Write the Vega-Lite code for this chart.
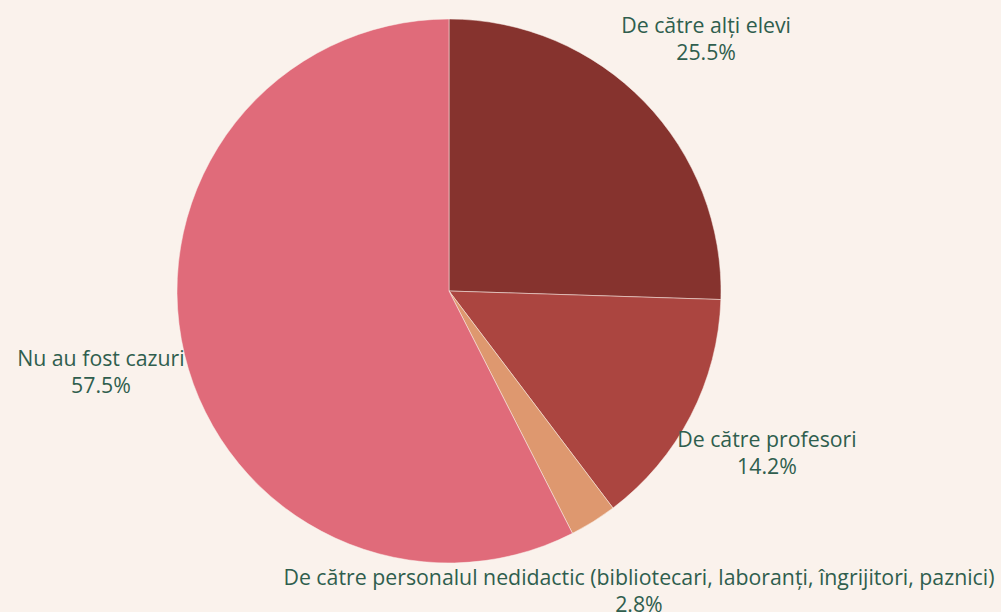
{
  "$schema": "https://vega.github.io/schema/vega-lite/v6.json",
  "width": 898,
  "height": 582,
  "autosize": {"type": "none"},
  "padding": {"left": 0, "top": 0, "right": 103, "bottom": 30},
  "background": "#FAF2EC",
  "config": {"view": {"stroke": null}},
  "data": {
    "values": [
      {"cat": "De către alți elevi", "pct": 25.5, "label": "25.5%", "o": 1},
      {"cat": "De către profesori", "pct": 14.2, "label": "14.2%", "o": 2},
      {"cat": "De către personalul nedidactic (bibliotecari, laboranți, îngrijitori, paznici)", "pct": 2.8, "label": "2.8%", "o": 3},
      {"cat": "Nu au fost cazuri", "pct": 57.5, "label": "57.5%", "o": 4}
    ]
  },
  "encoding": {
    "theta": {"field": "pct", "type": "quantitative", "stack": true},
    "order": {"field": "o", "type": "quantitative"}
  },
  "layer": [
    {
      "mark": {"type": "arc", "outerRadius": 272, "stroke": "#FAF2EC", "strokeWidth": 0.5},
      "encoding": {
        "color": {
          "field": "cat", "type": "nominal", "legend": null,
          "scale": {
            "domain": ["De către alți elevi", "De către profesori", "De către personalul nedidactic (bibliotecari, laboranți, îngrijitori, paznici)", "Nu au fost cazuri"],
            "range": ["#86332E", "#AB4540", "#DE986F", "#E06B7A"]
          }
        }
      }
    },
    {
      "transform": [{"calculate": "[datum.cat, datum.label]", "as": "txt"}],
      "mark": {"type": "text", "radius": 358, "dy": -15, "font": "Open Sans", "fontSize": 21.3, "color": "#2F5E4E", "align": "center", "baseline": "middle", "lineHeight": 27},
      "encoding": {
        "text": {"field": "txt"}
      }
    }
  ]
}
